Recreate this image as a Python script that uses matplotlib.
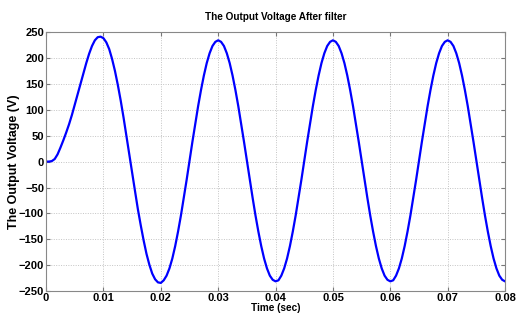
import numpy as np
import matplotlib
matplotlib.use("Agg")
import matplotlib.pyplot as plt

start_rise = [0, 0, 1, 5, 14, 27, 41, 56, 72, 90,
              110, 130, 150, 170, 190, 208, 223, 234, 240, 241]
first_fall = [238, 230, 217, 198, 175, 148, 118, 85, 50, 14,
              -22, -57, -92, -123, -152, -178, -199, -216, -227, -233]
rise = [-229, -220, -206, -187, -163, -135, -104, -70, -35, 2,
        38, 73, 107, 138, 166, 190, 209, 223, 231]
fall = [231, 223, 209, 190, 166, 138, 107, 73, 38, 2,
        -35, -70, -104, -135, -163, -187, -206, -220, -228]

voltage = (start_rise + first_fall + [-234] + rise + [234] + fall + [-231]
           + rise + [234] + fall + [-231] + rise + [234] + fall + [-231])
time = np.linspace(0.0, 0.08, len(voltage))

x_ticks = [0, 0.01, 0.02, 0.03, 0.04, 0.05, 0.06, 0.07, 0.08]
x_labels = ["0", "0.01", "0.02", "0.03", "0.04", "0.05", "0.06", "0.07", "0.08"]
y_ticks = [-250, -200, -150, -100, -50, 0, 50, 100, 150, 200, 250]

# ── Plot ─────────────────────────────────────────────────────────────────────
narrow = ["Liberation Sans Narrow", "Liberation Sans", "DejaVu Sans"]
plt.rcParams["font.family"] = narrow
plt.rcParams["font.weight"] = "bold"

fig = plt.figure(figsize=(5.18, 3.2), dpi=100)
ax = fig.add_axes([0.089, 0.09, 0.886, 0.81])

ax.plot(time, voltage, color="#0000ff", linewidth=1.6)

ax.set_xlim(0, 0.08)
ax.set_ylim(-250, 250)
ax.set_xticks(x_ticks)
ax.set_xticklabels(x_labels)
ax.set_yticks(y_ticks)
ax.tick_params(direction="in", top=True, right=True, length=3,
               labelsize=8, color="#777777", pad=1.5)
for lbl in ax.get_xticklabels() + ax.get_yticklabels():
    lbl.set_fontweight("bold")

ax.grid(True, linestyle=(0, (1, 1.5)), color="#c4c4c4", linewidth=0.7)
for sp in ax.spines.values():
    sp.set_color("#888888")
    sp.set_linewidth(0.8)

ax.set_title("The Output Voltage After filter", fontsize=7.2,
             fontweight="bold", pad=9)
ax.set_xlabel("Time (sec)", fontsize=7.2, fontweight="bold", labelpad=0)
ax.set_ylabel("The Output Voltage (V)", fontsize=9, fontweight="bold",
              family=["Liberation Sans", "DejaVu Sans"])
ax.yaxis.set_label_coords(-0.056, 0.5)

fig.savefig("out.png", dpi=100)
plt.close(fig)
